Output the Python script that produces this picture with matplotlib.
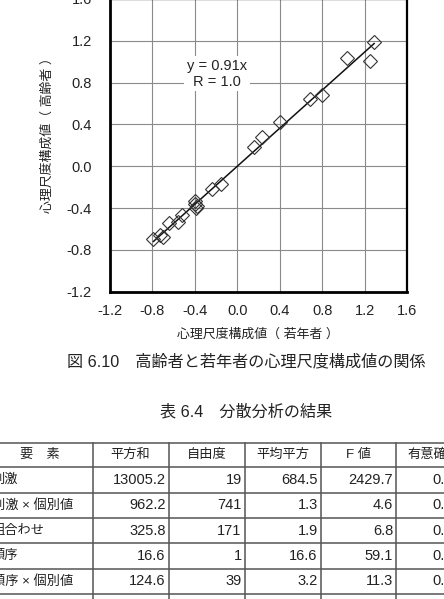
import numpy as np
import matplotlib.pyplot as plt

plt.rcParams['font.family'] = ['Liberation Sans', 'Noto Sans CJK JP']

# Scatter data (young vs elderly scale values)
young = [-0.79, -0.73, -0.70, -0.64, -0.56, -0.52, -0.40, -0.40, -0.39, -0.38,
         -0.24, -0.15, 0.16, 0.23, 0.40, 0.69, 0.80, 1.03, 1.25, 1.29]
elder = [-0.70, -0.66, -0.68, -0.54, -0.53, -0.47, -0.33, -0.36, -0.40, -0.38,
         -0.22, -0.17, 0.18, 0.28, 0.42, 0.64, 0.68, 1.04, 1.01, 1.19]
slope = 0.91
ticks = [-1.2, -0.8, -0.4, 0.0, 0.4, 0.8, 1.2, 1.6]

# ANOVA table
headers = ['要\u3000素', '平方和', '自由度', '平均平方', 'F 値', '有意確率']
factors = ['刺激', '刺激 × 個別値', '組合わせ', '順序', '順序 × 個別値', '']
sum_sq = ['13005.2', '962.2', '325.8', '16.6', '124.6', '']
dof = ['19', '741', '171', '1', '39', '']
mean_sq = ['684.5', '1.3', '1.9', '16.6', '3.2', '']
f_val = ['2429.7', '4.6', '6.8', '59.1', '11.3', '']
p_val = ['0.000', '0.000', '0.000', '0.000', '0.000', '']

W, H = 444, 599
fig = plt.figure(figsize=(W / 100, H / 100), dpi=100)

# --- scatter plot ---
ax = fig.add_axes([110 / W, 1 - 291.7 / H, 297 / W, 292.7 / H])
ax.set_xlim(-1.2, 1.6)
ax.set_ylim(-1.2, 1.6)
ax.set_xticks(ticks)
ax.set_yticks(ticks)
ax.set_xticklabels([f'{t:.1f}' for t in ticks])
ax.set_yticklabels([f'{t:.1f}' for t in ticks])
ax.grid(True, color='#8a8a8a', linewidth=0.8)
ax.set_axisbelow(True)
ax.tick_params(length=0, labelsize=10.5, labelcolor='#222222')
ax.tick_params(axis='x', pad=9)
ax.tick_params(axis='y', pad=13)
for side in ['left', 'bottom']:
    ax.spines[side].set_linewidth(2.0)
ax.spines['right'].set_linewidth(1.6)
ax.spines['top'].set_linewidth(1.6)

xs = np.array([min(young), max(young)])
ax.plot(xs, slope * xs, color='#111111', linewidth=1.1, zorder=3)
ax.plot(young, elder, linestyle='none', marker='D', markersize=7.5,
        markerfacecolor='none', markeredgecolor='#333333',
        markeredgewidth=0.8, zorder=4)

ax.text(-0.19, 0.885, f'y = {slope}x\nR = 1.0', ha='center', va='center',
        fontsize=10.5, linespacing=1.15, color='#222222',
        bbox=dict(facecolor='white', edgecolor='none', pad=2))

ax.set_xlabel('心理尺度構成値（ 若年者 ）', fontsize=9.3, color='#222222')
ax.xaxis.set_label_coords(0.497, -0.148)
ax.set_ylabel('心理尺度構成値（ 高齢者 ）', fontsize=9.3, color='#222222')
ax.yaxis.set_label_coords(-0.21, 0.546)
ax.xaxis.label.set_va('center')
ax.yaxis.label.set_va('center')

fig.text(246 / W, 1 - 361.7 / H, '図 6.10\u3000高齢者と若年者の心理尺度構成値の関係',
         ha='center', va='center', fontsize=11.6, color='#222222')
fig.text(246.5 / W, 1 - 411.7 / H, '表 6.4\u3000分散分析の結果',
         ha='center', va='center', fontsize=11.6, color='#222222')

# --- table (pixel coordinates) ---
tab = fig.add_axes([0, 0, 1, 1])
tab.set_xlim(0, W)
tab.set_ylim(H, 0)
tab.axis('off')

col_edges = [-12, 92.7, 168.7, 244.7, 320.7, 396, 472]
top = 442.7
head_h = 24.6
row_h = 25.3
columns = [factors, sum_sq, dof, mean_sq, f_val, p_val]
n_rows = len(factors)
bottom = top + head_h + n_rows * row_h
line_kw = dict(color='#555555', linewidth=1.1)

tab.plot([col_edges[0], col_edges[-1]], [top, top], **line_kw)
for r in range(n_rows + 1):
    y = top + head_h + r * row_h
    tab.plot([col_edges[0], col_edges[-1]], [y, y], **line_kw)
for x in col_edges:
    tab.plot([x, x], [top, bottom], **line_kw)

for c, h in enumerate(headers):
    cx = (col_edges[c] + col_edges[c + 1]) / 2
    tab.text(cx, top + head_h / 2, h, ha='center', va='center',
             fontsize=9.5, color='#222222')

for c, col in enumerate(columns):
    for r, val in enumerate(col):
        cy = top + head_h + (r + 0.5) * row_h
        if c == 0:
            tab.text(col_edges[0] + 4, cy, val, ha='left', va='center',
                     fontsize=9.5, color='#222222')
        else:
            tab.text(col_edges[c + 1] - 3, cy, val, ha='right', va='center',
                     fontsize=10.5, color='#222222')

fig.savefig('out.png', dpi=100)
